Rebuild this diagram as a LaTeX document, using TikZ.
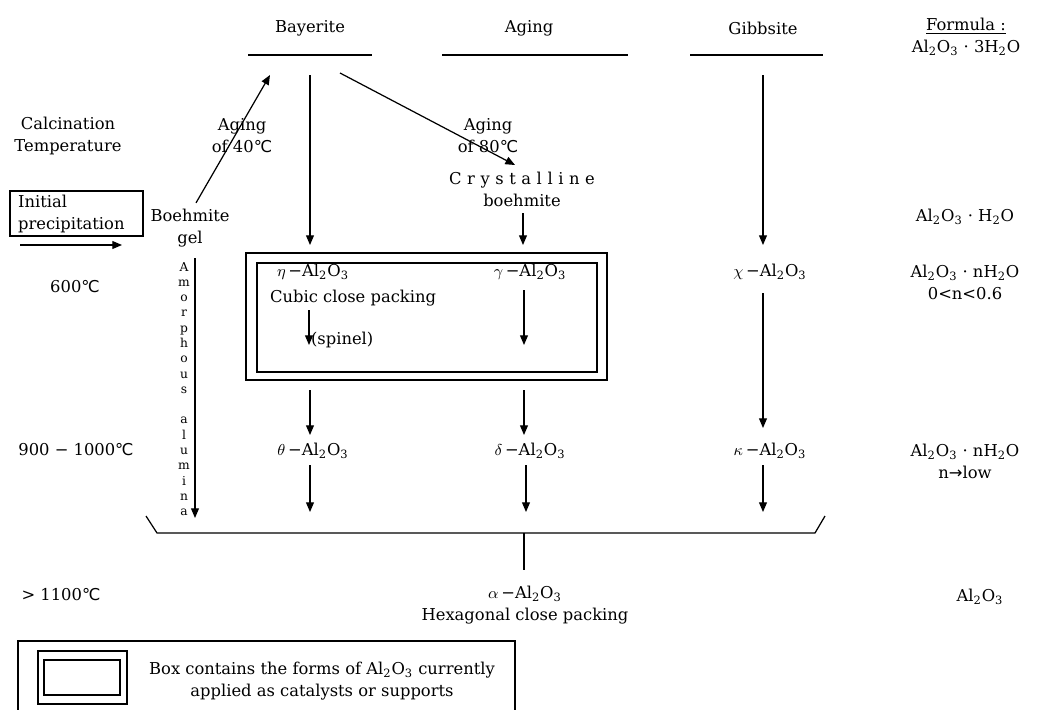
\documentclass[tikz,border=0pt]{standalone}
\usepackage{fontspec}
\setmainfont{DejaVu Serif}
\newfontfamily\symfont{DejaVu Sans}
\usetikzlibrary{arrows.meta}
\newcommand{\alo}{Al\textsubscript{2}O\textsubscript{3}}
\newcommand{\degc}{{\symfont ℃}}
\newcommand{\phase}[1]{$#1$\,−\alo}

\begin{document}
\begin{tikzpicture}[x=0.02cm,y=-0.02cm,
    every node/.style={font=\fontsize{9.3}{12.5}\selectfont,inner sep=1pt,align=center},
    arr/.style={-{Triangle[length=5.5pt,width=4.5pt]},line width=0.7pt},
    bar/.style={line width=1.3pt},
    frame/.style={line width=0.7pt}]
   \useasboundingbox (0,0) rectangle (1039,710);
   % column heads
   \node (bay) at (310,28) {Bayerite};
   \node (age) at (529,28) {Aging};
   \node (gib) at (763,28) {Gibbsite};
   \node (form) at (966,37) {\underline{Formula :}\\\alo\ · 3H\textsubscript{2}O};
   \draw[bar] (248,55) -- (372,55);
   \draw[bar] (442,55) -- (628,55);
   \draw[bar] (690,55) -- (823,55);
   % left column
   \node (calc) at (68,136) {Calcination\\Temperature};
   \node (t600) at (75,287) {600\degc};
   \node (t900) at (76,450) {900 − 1000\degc};
   \node (t1100) at (61,595) {> 1100\degc};
   \draw[frame] (10,191) rectangle (143,236);
   \node[anchor=west,align=left] (init) at (16,214) {Initial\\precipitation};
   \coordinate (ip1) at (20,245);
   \coordinate (ip2) at (122,245);
   \draw[arr] (ip1) -- (ip2);
   % aging paths
   \node (boehm) at (190,228) {Boehmite\\gel};
   \node (age40) at (242,136) {Aging\\of 40\degc};
   \node (age80) at (488,136) {Aging\\of 80\degc};
   \node (cryst) at (522,189) {{\addfontfeature{LetterSpace=34}Crystalline}\\boehmite};
   \coordinate (bay1) at (270,75);
   \coordinate (bay2) at (340,73);
   \coordinate (cry1) at (515,165);
   \draw[arr] (boehm.north) ++(6,-4) -- (bay1);
   \draw[arr] (bay2) -- (cry1);
   % amorphous alumina
   \coordinate (am1) at (195,258);
   \coordinate (am2) at (195,518);
   \draw[arr] (am1) -- (am2);
   \node[font=\fontsize{7}{8.7}\selectfont] (amor) at (184,389)
     {A\\m\\o\\r\\p\\h\\o\\u\\s\\[8.7pt]a\\l\\u\\m\\i\\n\\a};
   % 600 row
   \draw[frame] (246,253) rectangle (607,380);
   \draw[frame] (257,263) rectangle (597,372);
   \node (eta) at (313,272) {\phase{\eta}};
   \node[anchor=west] (cubic) at (268,298) {Cubic close packing};
   \node[anchor=west] (spin) at (309,340) {(spinel)};
   \node (gam) at (530,272) {\phase{\gamma}};
   \node (chi) at (770,272) {\phase{\chi}};
   \coordinate (bayd1) at (310,75);
   \coordinate (bayd2) at (310,245);
   \coordinate (cryd) at (523,245);
   \coordinate (gibd1) at (763,75);
   \coordinate (gibd2) at (763,245);
   \draw[arr] (bayd1) -- (bayd2);
   \draw[arr] (cryst.south) ++(1,5) -- (cryd);
   \draw[arr] (gibd1) -- (gibd2);
   \coordinate (sp1) at (309,310);
   \coordinate (sp2) at (309,345);
   \coordinate (gm1) at (524,290);
   \coordinate (gm2) at (524,345);
   \draw[arr] (sp1) -- (sp2);
   \draw[arr] (gm1) -- (gm2);
   % 900-1000 row
   \node (theta) at (313,451) {\phase{\theta}};
   \node (delta) at (530,451) {\phase{\delta}};
   \node (kappa) at (770,451) {\phase{\kappa}};
   \coordinate (th1) at (310,390);
   \coordinate (th2) at (310,435);
   \coordinate (de1) at (524,390);
   \coordinate (de2) at (524,435);
   \coordinate (ka1) at (763,293);
   \coordinate (ka2) at (763,428);
   \draw[arr] (th1) -- (th2);
   \draw[arr] (de1) -- (de2);
   \draw[arr] (ka1) -- (ka2);
   \coordinate (th3) at (310,465);
   \coordinate (th4) at (310,512);
   \coordinate (de3) at (526,465);
   \coordinate (de4) at (526,512);
   \coordinate (ka3) at (763,465);
   \coordinate (ka4) at (763,512);
   \draw[arr] (th3) -- (th4);
   \draw[arr] (de3) -- (de4);
   \draw[arr] (ka3) -- (ka4);
   % collecting bracket
   \coordinate (brL) at (146,516);
   \coordinate (brR) at (825,516);
   \coordinate (brM) at (524,533);
   \coordinate (brE) at (524,570);
   \draw[frame] (brL) -- (157,533) -- (815,533) -- (brR);
   \node (alpha) at (525,605) {\phase{\alpha}\\Hexagonal close packing};
   \draw[frame] (brM) -- (brE);
   % formulas
   \node (fh2o) at (965,217) {\alo\ · H\textsubscript{2}O};
   \node (f600) at (965,282) {\alo\ · nH\textsubscript{2}O\\0<n<0.6};
   \node (f900) at (965,461) {\alo\ · nH\textsubscript{2}O\\n{\symfont →}low};
   \node (f1100) at (980,597) {\alo};
   % legend
   \draw[frame] (18,641) rectangle (515,712);
   \draw[frame] (38,651) rectangle (127,704);
   \draw[frame] (44,660) rectangle (120,695);
   \node (legend) at (322,681) {Box contains the forms of \alo\ currently\\applied as catalysts or supports};
\end{tikzpicture}
\end{document}
